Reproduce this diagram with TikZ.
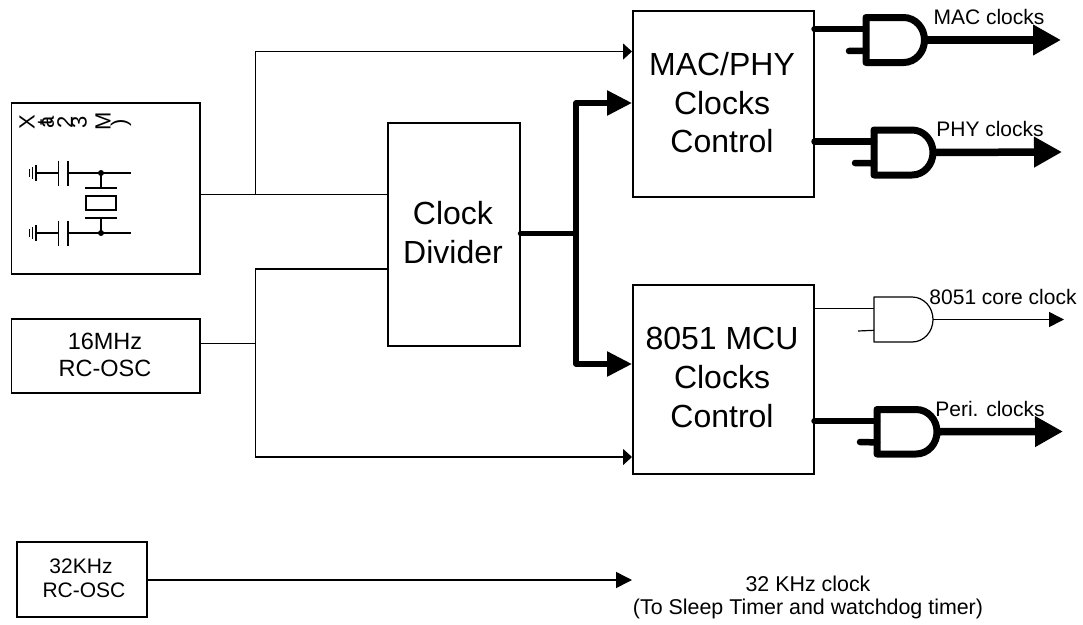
\documentclass[tikz,border=0pt]{standalone}
\usepackage{fontspec}
\setmainfont{Liberation Sans}
\usetikzlibrary{arrows.meta,calc}
\newcommand{\fsz}[1]{\fontsize{#1}{#1}\selectfont}
\tikzset{
  x=1pt,y=-1pt,
  box/.style={draw=black,line width=1.5pt,fill=white,inner sep=0pt,align=center,anchor=north west},
  wire/.style={draw=black,line width=1.5pt},
  thin arrow/.style={wire,-{Triangle[length=9pt,width=16pt]}},
  small arrow/.style={wire,-{Triangle[length=16pt,width=16pt]}},
  bus/.style={draw=black,line width=5.5pt,line cap=round,line join=round},
  bus arrow/.style={draw=black,line width=5.5pt,line join=round,-{Triangle[length=25pt,width=24pt]}},
  out arrow/.style={draw=black,line width=7.5pt,-{Triangle[length=28pt,width=29pt]}},
  stem/.style={draw=black,line width=6.5pt,line cap=round},
  part/.style={draw=black,line width=1.6pt},
  biglabel/.style={align=center,inner sep=0pt,font=\fsz{32}},
  midlabel/.style={align=center,inner sep=0pt,font=\fsz{23.5}},
  smalllabel/.style={align=center,inner sep=0pt,font=\fsz{21}},
  notelabel/.style={align=center,inner sep=0pt,font=\fsz{21.4}},
  tag/.style={inner sep=0pt,font=\fsz{21}},
  xtal/.style={inner sep=0pt,rotate=90,font=\fsz{22}},
}
% #1 name, #2 left x, #3 top y, #4 bottom y, #5 right x, #6 line width
\newcommand{\andgate}[6]{%
  \coordinate (#1-o) at (#5,{(#3+#4)/2});
  \coordinate (#1-a) at (#2,{#3+(#4-#3)*0.26});
  \coordinate (#1-b) at (#2,{#3+(#4-#3)*0.74});
  \draw[draw=black,line width=#6,line join=round]
    (#2,#3) -- ({#5-21},#3)
    .. controls ({#5-9},#3) and (#5,{(#3+#4)/2-12}) .. (#5,{(#3+#4)/2})
    .. controls (#5,{(#3+#4)/2+12}) and ({#5-9},#4) .. ({#5-21},#4)
    -- (#2,#4) -- cycle;
}
\begin{document}
\begin{tikzpicture}
\useasboundingbox (0,0) rectangle (1083,624);

% boxes
\node[box,minimum width=188.5pt,minimum height=171pt] (xt) at (10.5,102) {};
\node[box,minimum width=188.5pt,minimum height=74pt,midlabel] (rc16) at (10.5,318) {};
\node[box,minimum width=130pt,minimum height=75pt] (rc32) at (16,541) {};
\node[box,minimum width=132pt,minimum height=223pt] (div) at (387,122) {};
\node[box,minimum width=181pt,minimum height=186pt] (mac) at (632,10) {};
\node[box,minimum width=181pt,minimum height=189pt] (mcu) at (632,284) {};

% box texts
\node[midlabel] (t16a) at (105,341) {16MHz};
\node[midlabel] (t16b) at (105,368) {RC-OSC};
\node[smalllabel] (t32a) at (81,566) {32KHz};
\node[smalllabel] (t32b) at (84,590) {RC-OSC};
\node[biglabel] (tdiv1) at (453,213) {Clock};
\node[biglabel] (tdiv2) at (453,252) {Divider};
\node[biglabel] (tmac1) at (722,64) {MAC/PHY};
\node[biglabel] (tmac2) at (722,103) {Clocks};
\node[biglabel] (tmac3) at (722,141) {Control};
\node[biglabel] (tmcu1) at (722,338) {8051 MCU};
\node[biglabel] (tmcu2) at (722,377) {Clocks};
\node[biglabel] (tmcu3) at (722,416) {Control};

% thin clock wires
\coordinate (jt) at (255.5,194.5);
\coordinate (jb) at (255.5,343.5);
\coordinate (cnr1) at (255.5,51.5);
\coordinate (cnr2) at (255.5,269);
\coordinate (cnr3) at (255.5,457);
\draw[wire] (xt.east|-jt) -- (jt) -- (div.west|-jt);
\draw[thin arrow] (jt) -- (cnr1) -- (mac.west|-cnr1);
\draw[wire] (rc16.east|-jb) -- (jb);
\draw[wire] (div.west|-cnr2) -- (cnr2) -- (jb);
\draw[thin arrow] (jb) -- (cnr3) -- (mcu.west|-cnr3);
\coordinate (y32) at (146,580);
\draw[small arrow] (rc32.east|-y32) -- (y32-|mac.west);

% clock bus
\coordinate (bj) at (576,233.5);
\coordinate (b1) at (576,103);
\coordinate (b2) at (576,364);
\draw[bus] (div.east|-bj) -- (bj);
\draw[bus arrow] (bj) -- (b1) -- (mac.west|-b1);
\draw[bus arrow] (bj) -- (b2) -- (mcu.west|-b2);

% gates
\andgate{g1}{866}{17.5}{62.5}{924.5}{7pt}
\andgate{g2}{874}{130}{175}{933}{7pt}
\andgate{g3}{874}{297}{342}{933}{1.2pt}
\andgate{g4}{877}{409.5}{454}{937}{7pt}

\draw[stem] (mac.east|-g1-a) -- (g1-a);
\draw[stem] (849,51) -- (g1-b);
\draw[stem] (mac.east|-g2-a) -- (g2-a);
\draw[stem] (855,163) -- (g2-b);
\draw[stem] (mcu.east|-g4-a) -- (g4-a);
\draw[stem] (860,442) -- (g4-b);
\draw[wire] (mcu.east|-g3-a) -- (g3-a);
\draw[draw=black,line width=1.2pt] (858,331) -- (g3-b);

\coordinate (e1) at (1061,40);
\coordinate (e2) at (1062,152);
\coordinate (e3) at (1064,319.5);
\coordinate (e4) at (1063,431.5);
\draw[out arrow] (g1-o) -- (e1);
\draw[out arrow] (g2-o) -- (e2);
\draw[draw=black,line width=1.5pt,-{Triangle[length=15pt,width=15pt]}] (g3-o) -- (e3);
\draw[out arrow] (g4-o) -- (e4);

% output labels
\node[tag] (l1) at (989,17) {MAC clocks};
\node[tag] (l2) at (990,129) {PHY clocks};
\node[tag] (l3) at (1003,297) {8051 core clock};
\node[tag] (l4) at (990,409) {Peri. clocks};
\node[notelabel] (l5a) at (808,584) {32 KHz clock};
\node[notelabel] (l5b) at (808,609) {(To Sleep Timer and watchdog timer)};

% crystal circuit
\foreach \yy/\nm in {173/u,233/d}{
  \draw[part] (36,\yy) -- (58.5,\yy);
  \draw[part] (68,\yy) -- (131,\yy);
  \draw[part] (58.5,\yy-12.5) -- (58.5,\yy+12.5);
  \draw[part] (68,\yy-12.5) -- (68,\yy+12.5);
  \draw[part] (36,\yy-8) -- (36,\yy+8);
  \draw[line width=1.2pt] (32.5,\yy-6) -- (32.5,\yy+6);
  \draw[line width=1.2pt] (29.5,\yy-4) -- (29.5,\yy+4);
  \fill (101,\yy) circle (3);
}
\draw[part] (101,173) -- (101,188);
\draw[part] (85,188) -- (117,188);
\draw[part] (86,196) rectangle (116,210);
\draw[part] (85,218) -- (117,218);
\draw[part] (101,218) -- (101,233);

% crystal label (letters turned on their side, as printed)
\node[xtal] (x1) at (27,122) {X};
\node[xtal] (x2) at (45,122) {t};
\node[xtal] (x3) at (48,122) {a};
\node[xtal] (x4) at (65,122) {2};
\node[xtal] (x5) at (79,122) {3};
\node[xtal] (x6) at (103,121) {M};
\node[xtal] (x7) at (121,123) {)};
\end{tikzpicture}
\end{document}
